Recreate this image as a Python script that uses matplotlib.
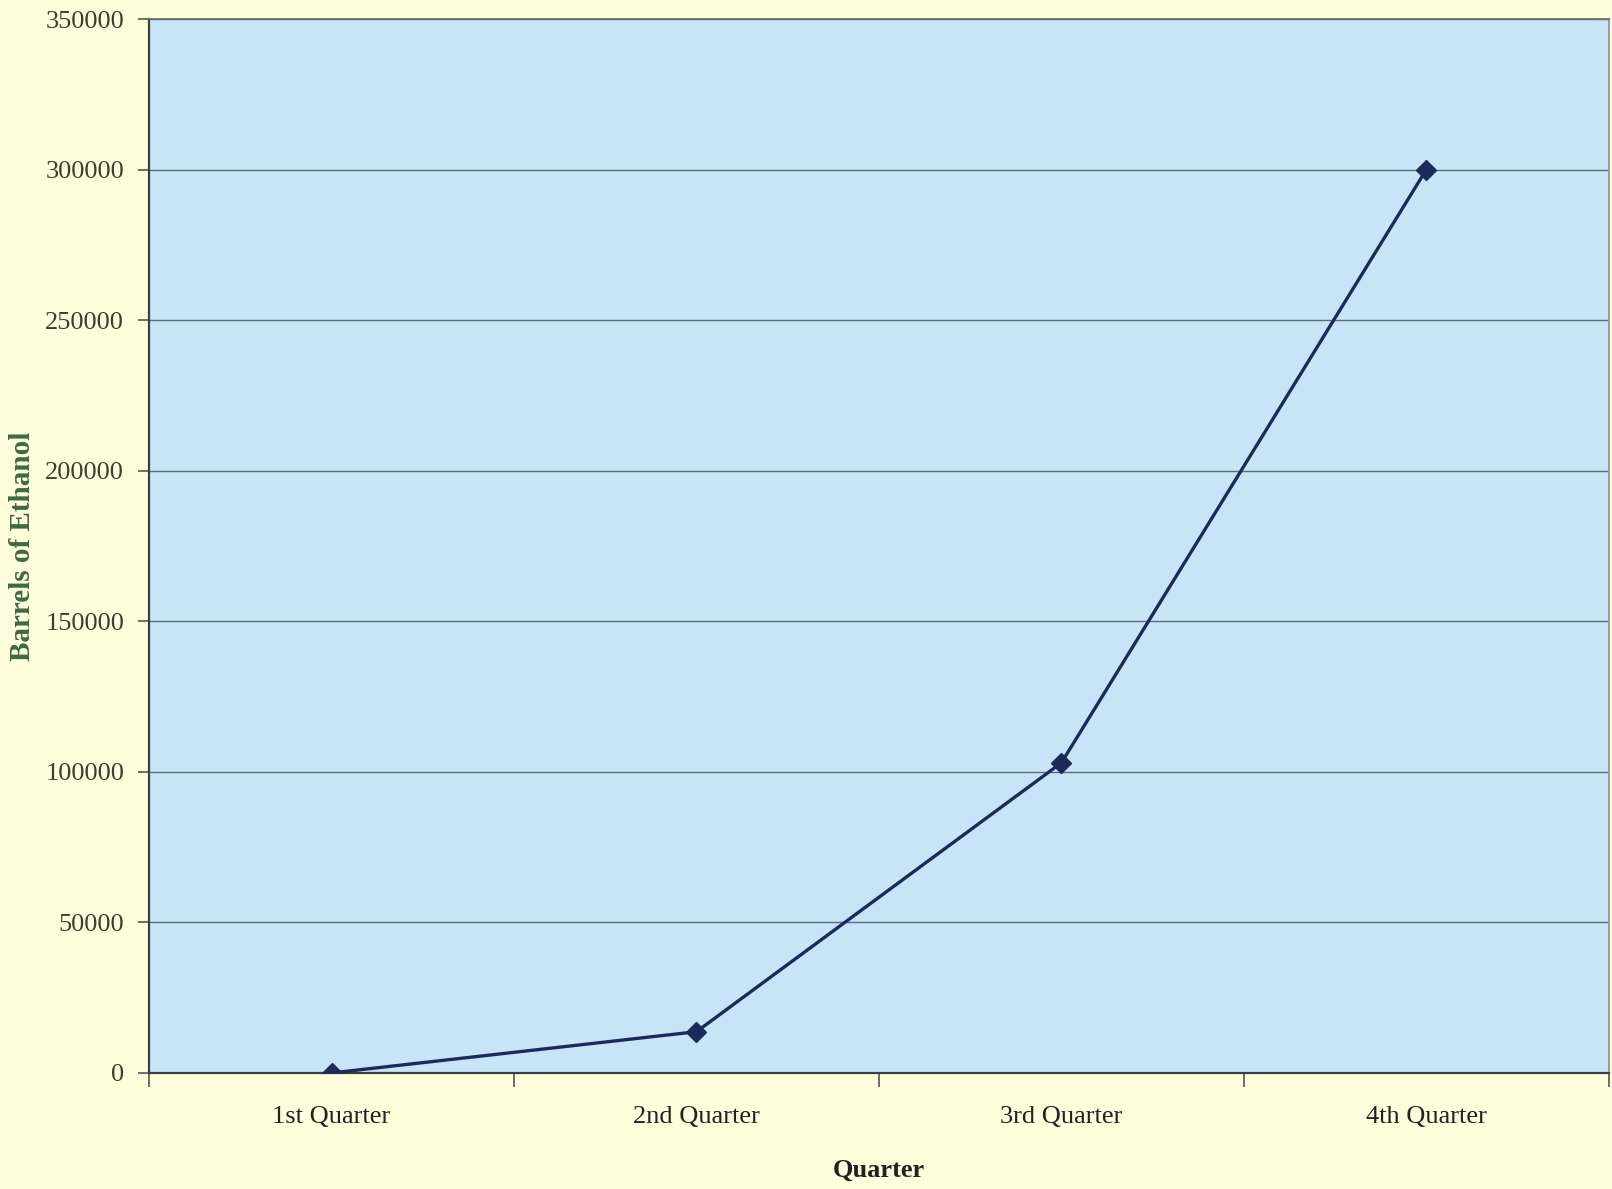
import numpy as np
import matplotlib.pyplot as plt

# Quarterly ethanol output
quarters = ['1st Quarter', '2nd Quarter', '3rd Quarter', '4th Quarter']
barrels = [0, 13700, 103000, 300000]
y_ticks = [0, 50000, 100000, 150000, 200000, 250000, 300000, 350000]

plt.rcParams['font.family'] = ['Liberation Serif', 'DejaVu Serif']

fig = plt.figure(figsize=(16.12, 11.89), dpi=100)
fig.patch.set_facecolor('#fffddc')
ax = fig.add_axes([0.0925, 0.0976, 0.9055, 0.8864])
ax.set_facecolor('#c8e5f8')

x = np.arange(len(quarters))
ax.plot(x, barrels, color='#1c2a5a', linewidth=2.4, marker='D',
        markersize=10, markerfacecolor='#1c2a5a', zorder=3)

ax.set_xlim(-0.5, len(quarters) - 0.5)
ax.set_ylim(0, 350000)

# y axis
ax.set_yticks(y_ticks)
ax.set_yticklabels([str(v) for v in y_ticks])
ax.tick_params(axis='y', direction='out', length=8, width=1.2,
               color='#555555', labelsize=19, labelcolor='#3e3e30', pad=10)
ax.yaxis.grid(True, color='#5c6c78', linewidth=1.0)
ax.set_axisbelow(True)

# x axis: labels at category centres, tick marks between categories
ax.set_xticks(x)
ax.set_xticklabels(quarters)
ax.set_xticks(np.arange(-0.5, len(quarters)), minor=True)
ax.tick_params(axis='x', which='major', length=0, labelsize=19,
               labelcolor='#222222', pad=24)
ax.tick_params(axis='x', which='minor', direction='out', length=10,
               width=1.2, color='#555555')

for side in ['left', 'bottom']:
    ax.spines[side].set_color('#3a4040')
    ax.spines[side].set_linewidth(1.6)
ax.spines['top'].set_color('#6a6a60')
ax.spines['top'].set_linewidth(1.2)
ax.spines['right'].set_color('#9a9a9a')
ax.spines['right'].set_linewidth(1.4)

ax.set_xlabel('Quarter', fontsize=19, fontweight='bold', color='#222222',
              labelpad=22)
ax.set_ylabel('Barrels of Ethanol', fontsize=21, fontweight='bold',
              color='#3c6a44', labelpad=14)
ax.yaxis.set_label_coords(-0.0775, 0.5)

fig.savefig('out.png', dpi=100, facecolor=fig.get_facecolor())
